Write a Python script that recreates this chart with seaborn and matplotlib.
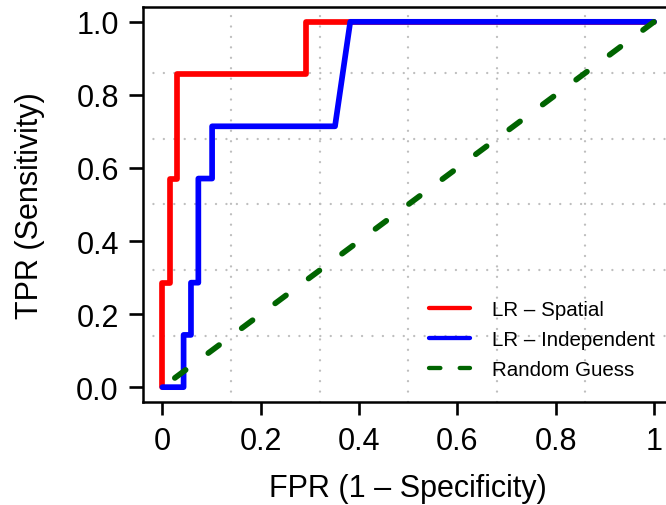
import numpy as np
import matplotlib
matplotlib.use("Agg")
import matplotlib.pyplot as plt
from matplotlib.lines import Line2D
import seaborn as sns

# ---- data ----
spatial_fpr = [0.0, 0.0, 0.0145, 0.0145, 0.029, 0.029, 0.292, 0.292, 1.0]
spatial_tpr = [0.0, 0.286, 0.286, 0.571, 0.571, 0.857, 0.857, 1.0, 1.0]

indep_fpr = [0.0, 0.043, 0.043, 0.058, 0.058, 0.073, 0.073, 0.101, 0.101, 0.351, 0.382, 1.0]
indep_tpr = [0.0, 0.0, 0.143, 0.143, 0.286, 0.286, 0.571, 0.571, 0.714, 0.714, 1.0, 1.0]

random_fpr = [0.0, 1.0]
random_tpr = [0.0, 1.0]

series_labels = ["LR – Spatial", "LR – Independent", "Random Guess"]
series_colors = ["#FF0000", "#0000FF", "#006400"]
x_ticks = [0.0, 0.2, 0.4, 0.6, 0.8, 1.0]
x_tick_labels = ["0", "0.2", "0.4", "0.6", "0.8", "1"]
y_ticks = [0.0, 0.2, 0.4, 0.6, 0.8, 1.0]
y_tick_labels = ["0.0", "0.2", "0.4", "0.6", "0.8", "1.0"]
x_label = "FPR (1 – Specificity)"
y_label = "TPR (Sensitivity)"

# ---- style ----
sns.set_style("white")
plt.rcParams["font.family"] = ["Liberation Sans", "DejaVu Sans"]
plt.rcParams["lines.scale_dashes"] = False

fig = plt.figure(figsize=(6.66, 5.06), dpi=100)
ax = fig.add_axes([0.2144, 0.2040, 0.7972, 0.7798])
ax.set_xlim(-0.04, 1.04)
ax.set_ylim(-0.04, 1.04)

# dotted grid dividing the plot region into 6x6 cells (R grid(6, 6))
grid_pos = np.linspace(-0.04, 1.04, 7)[1:-1]
for g in grid_pos:
    for ln in (ax.axvline(g), ax.axhline(g)):
        ln.set_color("#BEBEBE")
        ln.set_linewidth(1.7)
        ln.set_linestyle((0, (0.01, 7.5)))
        ln.set_dash_capstyle("round")
        ln.set_zorder(0.5)

lw = 4.1
sns.lineplot(x=spatial_fpr, y=spatial_tpr, sort=False, estimator=None,
             color=series_colors[0], linewidth=lw, ax=ax)
sns.lineplot(x=indep_fpr, y=indep_tpr, sort=False, estimator=None,
             color=series_colors[1], linewidth=lw, ax=ax)
sns.lineplot(x=random_fpr, y=random_tpr, sort=False, estimator=None,
             color=series_colors[2], linewidth=lw, ax=ax)

data_lines = ax.lines[-3:]
for ln in data_lines:
    ln.set_solid_capstyle("round")
    ln.set_solid_joinstyle("round")
    ln.set_zorder(2)
data_lines[2].set_linestyle((18.9, (9.7, 20.3)))
data_lines[2].set_dash_capstyle("round")
data_lines[2].set_zorder(3)

# axes box / ticks
for s in ax.spines.values():
    s.set_visible(True)
    s.set_color("black")
    s.set_linewidth(1.8)

ax.set_xticks(x_ticks)
ax.set_xticklabels(x_tick_labels)
ax.set_yticks(y_ticks)
ax.set_yticklabels(y_tick_labels)
ax.tick_params(axis="x", direction="out", length=9.0, width=1.9, pad=8.4,
               labelsize=22, colors="black", bottom=True)
ax.tick_params(axis="y", direction="out", length=10.0, width=1.9, pad=7.3,
               labelsize=22, colors="black", left=True)

ax.set_xlabel(x_label, fontsize=22, labelpad=12.0, color="black")
ax.set_ylabel(y_label, fontsize=22, labelpad=22.5, color="black")

# legend (no frame, handles styled like R's legend)
leg_lw = 3.1
leg_handles = [
    Line2D([], [], color=series_colors[0], linewidth=leg_lw, solid_capstyle="round"),
    Line2D([], [], color=series_colors[1], linewidth=leg_lw, solid_capstyle="round"),
    Line2D([], [], color=series_colors[2], linewidth=leg_lw,
           linestyle=(0, (8.2, 13.9)), dash_capstyle="round"),
]
leg = ax.legend(leg_handles, series_labels, loc="center left",
                bbox_to_anchor=(0.5395, 0.1574), frameon=False,
                fontsize=14.8, handlelength=2.0, handletextpad=1.05,
                labelspacing=0.55, borderpad=0, borderaxespad=0)
for t in leg.get_texts():
    t.set_color("black")

fig.savefig("out.png", dpi=100, facecolor="white")
